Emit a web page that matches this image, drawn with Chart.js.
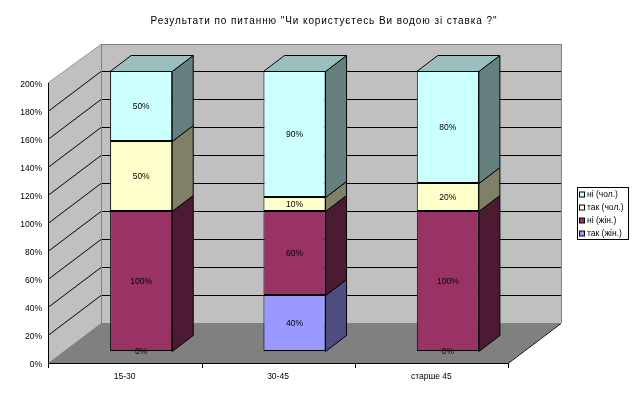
<!DOCTYPE html>
<html>
<head>
<meta charset="utf-8">
<script src="https://cdn.jsdelivr.net/npm/chart.js@4/dist/chart.umd.min.js"></script>
<style>
  html, body { margin: 0; background: #fff; }
  #wrap { width: 635px; height: 394px; }
</style>
</head>
<body>
<div id="wrap"><canvas id="chart" width="635" height="394"></canvas></div>
<script>
const categories = ["15-30", "30-45", "старше 45"];
const takZhin = [0, 40, 0];
const niZhin = [100, 60, 100];
const takChol = [50, 10, 20];
const niChol = [50, 90, 80];
const seriesNames = ["так (жін.)", "ні (жін.)", "так (чол.)", "ні (чол.)"];
const chartTitle = "Результати по питанню \"Чи користуєтесь Ви водою зі ставка ?\"";

const FONT = "Liberation Sans";
// front colour, top face, side face
const palette = [
  ["#9999ff", "#7373bf", "#4d4d80"],
  ["#993366", "#732650", "#4d1a33"],
  ["#ffffcc", "#bfbf99", "#808066"],
  ["#ccffff", "#99bfbf", "#668080"]
];
// box depth and where the bars sit inside it
const wall = { dx: 53, dy: -40 };
const barShift = { dx: 16.5, dy: -12 };
const barDepth = { dx: 21, dy: -16 };

function poly(ctx, pts, fill, stroke) {
  ctx.beginPath();
  pts.forEach((p, i) => i ? ctx.lineTo(p[0], p[1]) : ctx.moveTo(p[0], p[1]));
  ctx.closePath();
  if (fill) { ctx.fillStyle = fill; ctx.fill(); }
  if (stroke) { ctx.strokeStyle = stroke; ctx.lineWidth = 1; ctx.stroke(); }
}

function line(ctx, x1, y1, x2, y2, color) {
  ctx.strokeStyle = color;
  ctx.lineWidth = 1;
  ctx.beginPath();
  ctx.moveTo(x1, y1);
  ctx.lineTo(x2, y2);
  ctx.stroke();
}

const box3d = {
  id: "box3d",
  afterLayout(chart) {
    // title sits right of the plot centre and has wide spacing in the original
    const title = chart.titleBlock;
    title.left = 13;
    title.right = 635;
    if (!title.spaced) {
      title.spaced = true;
      const drawTitle = title.draw;
      title.draw = function () {
        chart.ctx.letterSpacing = "0.92px";
        drawTitle.call(this);
        chart.ctx.letterSpacing = "0px";
      };
      // y labels sit a little under their grid lines
      const yScale = chart.scales.y;
      const drawLabels = yScale.drawLabels;
      yScale.drawLabels = function (area) {
        chart.ctx.save();
        chart.ctx.translate(0, 2);
        drawLabels.call(this, area);
        chart.ctx.restore();
      };
    }
  },
  beforeDatasetsDraw(chart) {
    const ctx = chart.ctx;
    const { left, right, top, bottom } = chart.chartArea;
    const y = chart.scales.y;
    const x = chart.scales.x;
    const { dx, dy } = wall;
    const wallTop = top + dy + 1;

    poly(ctx, [[left, top], [left + dx, wallTop], [left + dx, bottom + dy], [left, bottom]], "#c0c0c0");
    poly(ctx, [[left + dx, wallTop], [right + dx, wallTop], [right + dx, bottom + dy], [left + dx, bottom + dy]], "#c0c0c0");
    poly(ctx, [[left, bottom], [left + dx, bottom + dy], [right + dx, bottom + dy], [right, bottom]], "#808080");

    y.ticks.forEach(t => {
      if (t.value === 0 || t.value === 200) return;
      const py = Math.round(y.getPixelForValue(t.value)) + 0.5;
      line(ctx, left, py, left + dx, py + dy, "#000");
      line(ctx, left + dx, py + dy, right + dx, py + dy, "#000");
    });

    line(ctx, left, top, left + dx, wallTop + 0.5, "#999");
    line(ctx, left + dx, wallTop + 0.5, right + dx, wallTop + 0.5, "#808080");
    line(ctx, left + dx + 0.5, wallTop, left + dx + 0.5, bottom + dy, "#808080");
    line(ctx, right + dx + 0.5, wallTop, right + dx + 0.5, bottom + dy, "#808080");

    line(ctx, left + 0.5, top, left + 0.5, bottom + 5, "#000");
    line(ctx, left, bottom + 0.5, right, bottom + 0.5, "#000");
    line(ctx, right, bottom + 0.5, right + dx, bottom + dy + 0.5, "#000");
    [0, 1, 2, 3].forEach(i => {
      const px = Math.ceil(left + i * x.width / categories.length) + 0.5;
      line(ctx, px, bottom, px, bottom + 5, "#000");
    });

    ctx.save();
    ctx.translate(barShift.dx, barShift.dy);
  },
  afterDatasetsDraw(chart) {
    const ctx = chart.ctx;
    const { dx, dy } = barDepth;

    chart.data.datasets.forEach((ds, d) => {
      chart.getDatasetMeta(d).data.forEach((bar, i) => {
        if (!ds.data[i]) return;
        const r = bar.x + bar.width / 2;
        const t = Math.round(bar.y);
        const b = Math.round(bar.base);
        poly(ctx, [[r, t + 0.5], [r + dx, t + dy + 0.5], [r + dx, b + dy + 0.5], [r, b + 0.5]], palette[d][2], "#000");
        const above = chart.data.datasets.slice(d + 1).some(o => o.data[i]);
        if (!above) {
          const l = bar.x - bar.width / 2;
          poly(ctx, [[l, t + 0.5], [l + dx, t + dy + 0.5], [r + dx, t + dy + 0.5], [r, t + 0.5]], palette[d][1], "#000");
        }
      });
    });

    ctx.font = "8.5px '" + FONT + "'";
    ctx.fillStyle = "#000";
    ctx.textAlign = "center";
    ctx.textBaseline = "middle";
    chart.data.datasets.forEach((ds, d) => {
      chart.getDatasetMeta(d).data.forEach((bar, i) => {
        ctx.fillText(ds.data[i] + "%", bar.x, (bar.y + bar.base) / 2 + 1);
      });
    });
    ctx.restore();
  },
  afterDraw(chart) {
    const ctx = chart.ctx;
    // legend box, series listed top down in reverse order
    ctx.fillStyle = "#fff";
    ctx.fillRect(577.5, 187.5, 51, 52);
    ctx.strokeStyle = "#000";
    ctx.lineWidth = 1;
    ctx.strokeRect(577.5, 187.5, 51, 52);
    ctx.font = "8.5px '" + FONT + "'";
    ctx.textAlign = "left";
    ctx.textBaseline = "middle";
    seriesNames.slice().reverse().forEach((name, i) => {
      const rowY = 194.5 + i * 13;
      ctx.fillStyle = palette[3 - i][0];
      ctx.fillRect(579.5, rowY - 2.5, 5, 5);
      ctx.strokeStyle = "#000";
      ctx.strokeRect(579.5, rowY - 2.5, 5, 5);
      ctx.fillStyle = "#000";
      ctx.fillText(name, 587, rowY + 0.5);
    });
  }
};

new Chart(document.getElementById("chart"), {
  type: "bar",
  plugins: [box3d],
  data: {
    labels: categories,
    datasets: [takZhin, niZhin, takChol, niChol].map((values, i) => ({
      label: seriesNames[i],
      data: values,
      backgroundColor: palette[i][0],
      borderColor: "#000",
      borderWidth: 1,
      borderSkipped: false,
      barPercentage: 0.405,
      categoryPercentage: 1,
      clip: false
    }))
  },
  options: {
    responsive: false,
    animation: false,
    devicePixelRatio: 1,
    layout: { padding: { left: 0, right: 127, top: 0, bottom: 0 } },
    plugins: {
      legend: { display: false },
      tooltip: { enabled: false },
      title: {
        display: true,
        text: chartTitle,
        color: "#000",
        font: { family: FONT, size: 10, weight: "normal" },
        padding: { top: 15, bottom: 56 }
      }
    },
    scales: {
      x: {
        stacked: true,
        grid: { display: false, drawTicks: false },
        border: { display: false },
        ticks: { color: "#000", font: { family: FONT, size: 8.5 }, padding: 9, maxRotation: 0 },
        afterFit: s => { s.height = 31; }
      },
      y: {
        stacked: true,
        min: 0,
        max: 200,
        grid: { display: false, drawTicks: false },
        border: { display: false },
        ticks: {
          stepSize: 20,
          color: "#000",
          padding: 6,
          font: { family: FONT, size: 8.5 },
          callback: v => v + "%"
        },
        afterFit: s => { s.width = 48; }
      }
    }
  }
});
</script>
</body>
</html>
